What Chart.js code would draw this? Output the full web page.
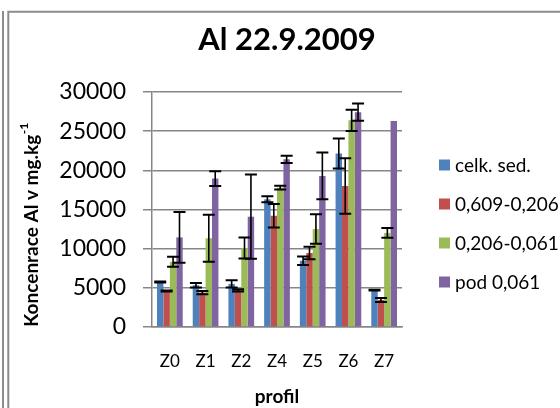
<!DOCTYPE html>
<html><head><meta charset="utf-8">
<script src="https://cdn.jsdelivr.net/npm/chart.js@4/dist/chart.umd.min.js"></script>
<style>html,body{margin:0;padding:0;background:#fff;}#wrap{width:560px;height:408px;position:relative;}</style>
</head><body><div id="wrap"><canvas id="c" width="560" height="408"></canvas></div>
<script>
const categories = ['Z0', 'Z1', 'Z2', 'Z4', 'Z5', 'Z6', 'Z7'];
const seriesLabels = ['celk. sed.', '0,609-0,206', '0,206-0,061', 'pod 0,061'];
const celkSed  = [5750, 5330, 5500, 16300, 8450, 22150, 4700];
const f0609    = [4600, 4400, 4670, 14200, 9450, 18000, 3450];
const f0206    = [8320, 11330, 10090, 17790, 12500, 26380, 12010];
const pod0061  = [11440, 18950, 14080, 21400, 19290, 27420, 26290];
const errCelk  = [60, 300, 470, 380, 550, 1900, 50];
const err0609  = [60, 210, 150, 1500, 790, 3550, 250];
const err0206  = [640, 3010, 1340, 230, 1880, 1350, 620];
const errPod   = [3240, 940, 5380, 450, 2990, 1100, 0];
const yTickStep = 5000;
const yMax = 30000;
const chartTitle = 'Al 22.9.2009';
const xTitle = 'profil';
const yTitleMain = 'Koncenrace Al v mg.kg';
const yTitleSup = '-1';

const colors = ['#4F81BD', '#C0504D', '#9BBB59', '#8064A2'];
const seriesValues = [celkSed, f0609, f0206, pod0061];
const seriesErrors = [errCelk, err0609, err0206, errPod];
const FONT = 'Lato';

const decor = {
  id: 'decor',
  beforeDraw(chart) {
    const c = chart.ctx;
    c.save();
    c.fillStyle = '#fff';
    c.fillRect(0, 0, chart.width, chart.height);
    c.strokeStyle = '#8c8c8c';
    c.lineWidth = 2;
    c.beginPath();
    c.moveTo(3, 11); c.lineTo(3, 408);
    c.moveTo(8.3, 11); c.lineTo(8.3, 408);
    c.moveTo(7.3, 11.8); c.lineTo(560, 11.8);
    c.stroke();
    c.restore();
  },
  afterDatasetsDraw(chart) {
    const c = chart.ctx;
    const ys = chart.scales.y;
    c.save();
    c.strokeStyle = '#000';
    chart.data.datasets.forEach((ds, i) => {
      const meta = chart.getDatasetMeta(i);
      meta.data.forEach((el, j) => {
        const e = ds.errors[j];
        if (!e) return;
        const v = ds.data[j];
        const yHi = ys.getPixelForValue(v + e);
        const yLo = ys.getPixelForValue(v - e);
        const x = el.x;
        c.lineWidth = 1.6;
        c.beginPath();
        c.moveTo(x, yHi); c.lineTo(x, yLo);
        c.stroke();
        c.lineWidth = 2;
        c.beginPath();
        c.moveTo(x - 6, yHi); c.lineTo(x + 6, yHi);
        c.moveTo(x - 6, yLo); c.lineTo(x + 6, yLo);
        c.stroke();
      });
    });
    c.restore();
  },
  afterDraw(chart) {
    const c = chart.ctx;
    c.save();
    c.fillStyle = '#000';
    // title
    c.font = 'bold 31px ' + FONT;
    c.textAlign = 'center';
    c.textBaseline = 'middle';
    c.fillText(chartTitle, 287, 40);
    // y axis title with superscript
    c.translate(31, 225);
    c.rotate(-Math.PI / 2);
    c.font = 'bold 19px ' + FONT;
    const w1 = c.measureText(yTitleMain).width;
    c.font = 'bold 12px ' + FONT;
    const w2 = c.measureText(yTitleSup).width;
    const start = -(w1 + w2) / 2;
    c.textAlign = 'left';
    c.textBaseline = 'alphabetic';
    c.font = 'bold 19px ' + FONT;
    c.fillText(yTitleMain, start, 7);
    c.font = 'bold 12px ' + FONT;
    c.fillText(yTitleSup, start + w1 + 0.5, -3);
    c.setTransform(1, 0, 0, 1, 0, 0);
    // legend
    c.font = '19px ' + FONT;
    c.textAlign = 'left';
    c.textBaseline = 'middle';
    chart.data.datasets.forEach((ds, i) => {
      const cy = 165 + i * 39;
      c.fillStyle = ds.backgroundColor;
      c.fillRect(439, cy - 5.5, 11, 11);
      c.fillStyle = '#000';
      c.fillText(ds.label, 455, cy + 1);
    });
    c.restore();
  }
};

new Chart(document.getElementById('c'), {
  type: 'bar',
  data: {
    labels: categories,
    datasets: seriesValues.map((d, i) => ({
      label: seriesLabels[i],
      data: d,
      errors: seriesErrors[i],
      backgroundColor: colors[i],
      borderWidth: 0,
      categoryPercentage: 0.72,
      barPercentage: 1
    }))
  },
  options: {
    responsive: false,
    animation: false,
    devicePixelRatio: 1,
    layout: { padding: { top: 92, left: 0, right: 158, bottom: 0 } },
    plugins: { legend: { display: false }, title: { display: false }, tooltip: { enabled: false } },
    scales: {
      x: {
        grid: { display: false, drawTicks: false },
        border: { display: true, color: '#868686', width: 1.5 },
        ticks: { font: { family: FONT, size: 17 }, color: '#000', padding: 24 },
        title: { display: true, text: xTitle, font: { family: FONT, size: 19, weight: 'bold' }, color: '#000', padding: { top: 0, bottom: 0 } },
        afterFit(s) { s.height = 81; }
      },
      y: {
        min: 0, max: yMax,
        grid: { color: '#868686', lineWidth: 1.5, tickLength: 9, drawTicks: true },
        border: { display: true, color: '#868686', width: 1.5 },
        ticks: { stepSize: yTickStep, font: { family: FONT, size: 23 }, color: '#000', padding: 17, callback: v => String(v) },
        afterFit(s) { s.width = 152; }
      }
    }
  },
  plugins: [decor]
});
</script></body></html>
